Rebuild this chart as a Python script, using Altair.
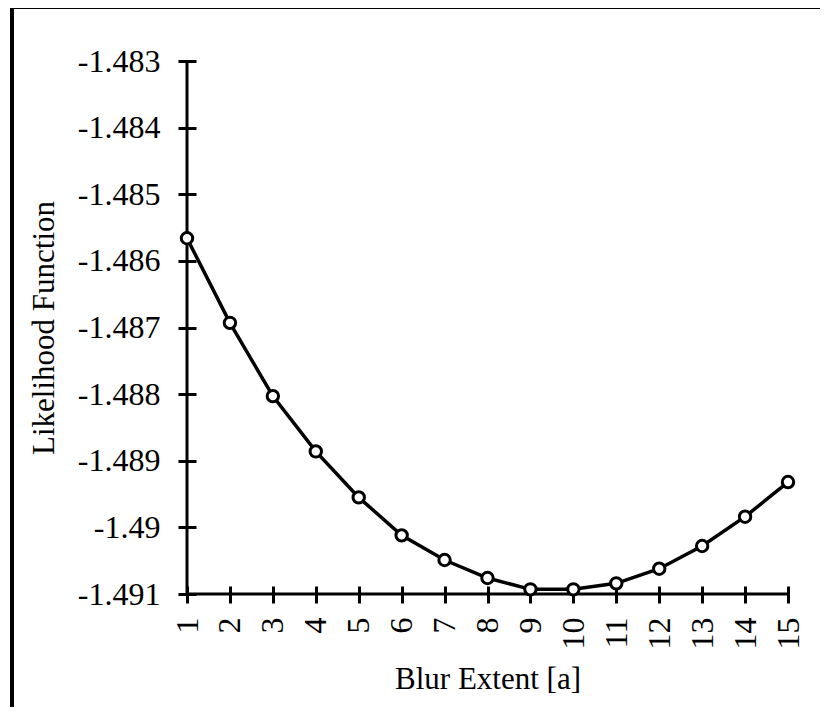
import altair as alt
import pandas as pd

blur_extent = list(range(1, 16))
likelihood = [-1.48566, -1.48693, -1.48803, -1.48886, -1.48955, -1.49012, -1.49049,
              -1.49076, -1.49093, -1.49093, -1.49084, -1.49062, -1.49028, -1.48984, -1.48932]
y_ticks = [-1.483, -1.484, -1.485, -1.486, -1.487, -1.488, -1.489, -1.49, -1.491]
x_ticks = list(range(1, 16))

df = pd.DataFrame({"x": blur_extent, "y": likelihood})
FONT = "Liberation Serif"

xscale = alt.Scale(domain=[1, 15], nice=False, zero=False)
yscale = alt.Scale(domain=[-1.491, -1.483], nice=False, zero=False)

xaxis = alt.Axis(values=x_ticks, labelAngle=270, offset=-8, tickSize=17, tickWidth=3,
                 tickColor="black", domain=False, grid=False, labelPadding=14,
                 labelFont=FONT, labelFontSize=32, labelColor="black",
                 title="Blur Extent [a]", titleFont=FONT, titleFontSize=31,
                 titleFontWeight="normal", titleColor="black",
                 titleY=102, titleBaseline="alphabetic")
yaxis = alt.Axis(values=y_ticks, offset=-9, tickSize=18, tickWidth=3,
                 tickColor="black", domain=False, grid=False, labelPadding=18,
                 labelFont=FONT, labelFontSize=32, labelColor="black",
                 labelExpr="'' + datum.value",
                 title="Likelihood Function", titleFont=FONT, titleFontSize=31,
                 titleFontWeight="normal", titleColor="black",
                 titleX=-143, titleBaseline="alphabetic")

base = alt.Chart(df)
line = base.mark_line(color="black", strokeWidth=3.5).encode(
    x=alt.X("x:Q", scale=xscale, axis=xaxis),
    y=alt.Y("y:Q", scale=yscale, axis=yaxis),
)
pts = base.mark_point(shape="circle", filled=True, fill="white", stroke="black",
                      strokeWidth=3, size=130, opacity=1).encode(
    x=alt.X("x:Q", scale=xscale),
    y=alt.Y("y:Q", scale=yscale),
)

ydom = pd.DataFrame({"x": [x_ticks[0]], "y": [y_ticks[-1]], "y2": [y_ticks[0]]})
xdom = pd.DataFrame({"x": [x_ticks[0]], "x2": [x_ticks[-1]], "y": [y_ticks[-1]]})
yrule = alt.Chart(ydom).mark_rule(color="black", strokeWidth=3).encode(
    x=alt.X("x:Q", scale=xscale), y=alt.Y("y:Q", scale=yscale), y2="y2:Q")
xrule = alt.Chart(xdom).mark_rule(color="black", strokeWidth=3).encode(
    x=alt.X("x:Q", scale=xscale), x2="x2:Q", y=alt.Y("y:Q", scale=yscale))

frame_top = alt.Chart(df).mark_rule(color="black", strokeWidth=3).encode(
    x=alt.value(-175), x2=alt.value(641), y=alt.value(-54))
frame_left = alt.Chart(df).mark_rule(color="black", strokeWidth=3).encode(
    x=alt.value(-175), y=alt.value(-54), y2=alt.value(700))
frame_bottom = alt.Chart(df).mark_rule(color="#dddddd", strokeWidth=1.5).encode(
    x=alt.value(-175), x2=alt.value(641), y=alt.value(651))

chart = alt.layer(frame_top, frame_left, frame_bottom, yrule, xrule, line, pts).properties(
    width=601, height=533,
    background="white",
    autosize=alt.AutoSizeParams(type="none"),
    padding={"left": 179, "top": 53, "right": 32, "bottom": 113},
).configure_view(strokeWidth=0, stroke="transparent")

chart.save("out.html", embed_options={"renderer": "svg", "actions": False})
